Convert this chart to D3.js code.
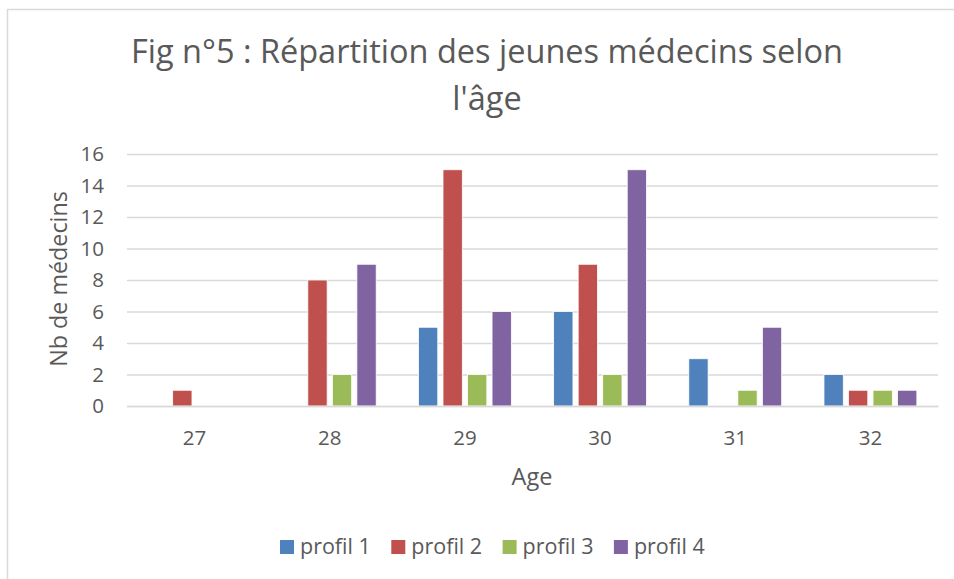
<!DOCTYPE html>
<html>
<head>
<meta charset="utf-8">
<script src="https://cdn.jsdelivr.net/npm/d3@7"></script>
<style>
  body { margin: 0; background: #fff; }
  text { font-family: "Open Sans", sans-serif; fill: #595959; }
</style>
</head>
<body>
<div class="chart"></div>
<script>
// data
var ages = ["27", "28", "29", "30", "31", "32"];
var seriesNames = ["profil 1", "profil 2", "profil 3", "profil 4"];
var profil1 = [0, 0, 5, 6, 3, 2];
var profil2 = [1, 8, 15, 9, 0, 1];
var profil3 = [0, 2, 2, 2, 1, 1];
var profil4 = [0, 9, 6, 15, 5, 1];
var yTicks = [0, 2, 4, 6, 8, 10, 12, 14, 16];
var colors = ["#4F81BD", "#C0504D", "#9BBB59", "#8064A2"];

var svgWidth = 954;
var svgHeight = 579;

var margin = { top: 154, right: 16, bottom: 173, left: 127 };
var width = svgWidth - margin.left - margin.right;
var height = svgHeight - margin.top - margin.bottom;

var svg = d3.select(".chart")
  .append("svg")
  .attr("width", svgWidth)
  .attr("height", svgHeight);

// chart area border (top and left visible)
svg.append("path")
  .attr("d", "M7.5,579V9.5H954")
  .attr("fill", "none")
  .attr("stroke", "#d9d9d9")
  .attr("stroke-width", 1.5);

var chartGroup = svg.append("g")
  .attr("transform", `translate(${margin.left}, ${margin.top})`);

var values = [profil1, profil2, profil3, profil4];
var rows = [];
ages.forEach(function(a, i) {
  seriesNames.forEach(function(s, j) {
    rows.push({ age: a, serie: s, idx: j, value: values[j][i] });
  });
});

var x0 = d3.scaleBand()
  .domain(ages)
  .range([0, width]);

var x1 = d3.scaleBand()
  .domain(seriesNames)
  .range([0, x0.bandwidth()])
  .paddingInner(0.2126)
  .paddingOuter(0.862);

var yLinearScale = d3.scaleLinear()
  .domain([0, 16])
  .range([height, 0]);

// gridlines + y labels
var leftAxis = d3.axisLeft(yLinearScale)
  .tickValues(yTicks)
  .tickSize(-width)
  .tickPadding(23);

var yAxis = chartGroup.append("g").call(leftAxis);
yAxis.select(".domain").remove();
yAxis.selectAll("line").attr("stroke", "#d9d9d9").attr("stroke-width", 1.3);
yAxis.selectAll("text")
  .style("font-family", "'Open Sans', sans-serif")
  .style("font-size", "20.5px")
  .attr("fill", "#595959");

// bars
chartGroup.selectAll("rect.bar")
  .data(rows.filter(d => d.value > 0))
  .enter()
  .append("rect")
  .attr("class", "bar")
  .attr("x", d => x0(d.age) + x1(d.serie))
  .attr("y", d => yLinearScale(d.value))
  .attr("width", x1.bandwidth())
  .attr("height", d => height - yLinearScale(d.value))
  .attr("fill", d => colors[d.idx])
  .attr("stroke", "#fff")
  .attr("stroke-width", 0.8);

// x axis
var bottomAxis = d3.axisBottom(x0).tickSize(0).tickPadding(24);
var xAxis = chartGroup.append("g")
  .attr("transform", `translate(0, ${height})`)
  .call(bottomAxis);
xAxis.select(".domain").attr("stroke", "#d9d9d9").attr("stroke-width", 1.3);
xAxis.selectAll("text")
  .style("font-family", "'Open Sans', sans-serif")
  .style("font-size", "20.5px")
  .attr("fill", "#595959");

// title
svg.append("text")
  .attr("x", 487)
  .attr("y", 63)
  .attr("text-anchor", "middle")
  .style("font-size", "32.5px")
  .text("Fig n°5 : Répartition des jeunes médecins selon");

svg.append("text")
  .attr("x", 487)
  .attr("y", 110)
  .attr("text-anchor", "middle")
  .style("font-size", "32.5px")
  .text("l'âge");

// axis titles
svg.append("text")
  .attr("transform", "rotate(-90)")
  .attr("x", -279)
  .attr("y", 67)
  .attr("text-anchor", "middle")
  .style("font-size", "23.3px")
  .text("Nb de médecins");

svg.append("text")
  .attr("x", 532)
  .attr("y", 485)
  .attr("text-anchor", "middle")
  .style("font-size", "23.5px")
  .text("Age");

// legend
var legend = svg.append("g").attr("transform", "translate(280, 540)");
var item = legend.selectAll("g")
  .data(seriesNames)
  .enter()
  .append("g")
  .attr("transform", (d, i) => `translate(${i * 111.3}, 0)`);

item.append("rect")
  .attr("width", 14)
  .attr("height", 14)
  .attr("fill", (d, i) => colors[i]);

item.append("text")
  .attr("x", 20)
  .attr("y", 13.5)
  .style("font-size", "21.5px")
  .text(d => d);
</script>
</body>
</html>
